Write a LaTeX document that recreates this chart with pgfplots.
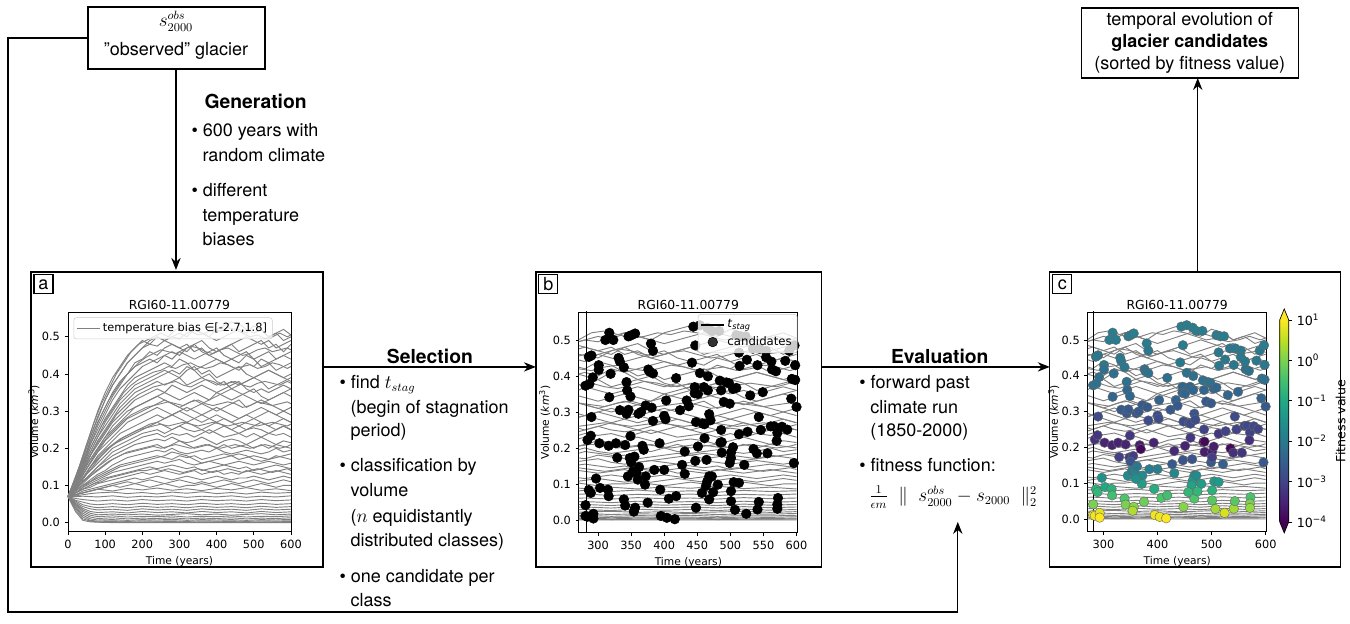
\documentclass[border=0pt]{standalone}
\usepackage[no-math]{fontspec}
\setmainfont{TeX Gyre Heros}
\newfontfamily\dvs{DejaVu Sans}
\usepackage{pgfplots}
\pgfplotsset{compat=1.18}
\usepackage{pgfplotstable}
\usetikzlibrary{arrows.meta}
\definecolor{v0}{HTML}{440154}
\definecolor{v1}{HTML}{482475}
\definecolor{v2}{HTML}{414487}
\definecolor{v3}{HTML}{355F8D}
\definecolor{v4}{HTML}{2A788E}
\definecolor{v5}{HTML}{21918C}
\definecolor{v6}{HTML}{22A884}
\definecolor{v7}{HTML}{44BF70}
\definecolor{v8}{HTML}{7AD151}
\definecolor{v9}{HTML}{BDDF26}
\definecolor{v10}{HTML}{FDE725}
\pgfdeclareverticalshading{viridisbar}{100bp}{color(0bp)=(v0); color(25bp)=(v0); color(30bp)=(v1); color(35bp)=(v2); color(40bp)=(v3); color(45bp)=(v4); color(50bp)=(v5); color(55bp)=(v6); color(60bp)=(v7); color(65bp)=(v8); color(70bp)=(v9); color(75bp)=(v10); color(100bp)=(v10)}
\newcommand\bodyf{\fontsize{13.5}{16}\selectfont}
\newcommand\headf{\fontsize{14.5}{17}\selectfont\bfseries}
\newcommand\mpl[1]{\dvs\fontsize{#1}{#1}\selectfont}

\pgfplotsset{
 panel/.style={scale only axis, axis line style={line width=0.6pt}, tick align=outside, tick pos=left,
   major tick length=2.5pt, tick style={black, line width=0.5pt},
   tick label style={font=\mpl{8.5}}, label style={font=\mpl{8}}, title style={font=\mpl{9.3}, yshift=-2pt},
   every axis title shift=0pt, ylabel shift=-5pt, xlabel shift=-1pt,
   /pgf/number format/assume math mode=true,
   yticklabel style={/pgf/number format/fixed, /pgf/number format/fixed zerofill, /pgf/number format/precision=1},
   ytick={0,0.1,0.2,0.3,0.4,0.5}, ylabel={Volume (\textit{km}\textsuperscript{3})}, xlabel={Time (years)},
   title={RGI60-11.00779}},
 gl/.style={color=gray, line width=0.7pt, forget plot},
}

\newcommand\glaciers{%
\addplot[gl] coordinates {(0,.07)(20,.12)(40,.18)(60,.24)(80,.30)(100,.35)(120,.39)(140,.42)(160,.45)(180,.47)(200,.49)(220,.48)(240,.50)(260,.49)(280,.50)(300,.51)(320,.50)(340,.52)(360,.51)(380,.50)(400,.52)(420,.53)(440,.54)(460,.535)(480,.52)(500,.51)(520,.52)(540,.50)(560,.51)(580,.49)(600,.50)};
\addplot[gl] coordinates {(0,.07)(20,.115)(40,.17)(60,.23)(80,.28)(100,.33)(120,.37)(140,.40)(160,.43)(180,.45)(200,.47)(220,.48)(240,.475)(260,.49)(280,.50)(300,.495)(320,.51)(340,.52)(360,.51)(380,.50)(400,.49)(420,.50)(440,.51)(460,.52)(480,.51)(500,.53)(520,.52)(540,.50)(560,.51)(580,.52)(600,.505)};
\addplot[gl] coordinates {(0,.07)(20,.11)(40,.16)(60,.21)(80,.26)(100,.30)(120,.34)(140,.37)(160,.40)(180,.43)(200,.44)(220,.46)(240,.45)(260,.47)(280,.48)(300,.47)(320,.46)(340,.48)(360,.49)(380,.47)(400,.46)(420,.47)(440,.48)(460,.46)(480,.47)(500,.48)(520,.49)(540,.47)(560,.48)(580,.46)(600,.48)};
\addplot[gl] coordinates {(0,.07)(20,.11)(40,.16)(60,.21)(80,.25)(100,.29)(120,.33)(140,.36)(160,.38)(180,.40)(200,.42)(220,.43)(240,.44)(260,.45)(280,.44)(300,.46)(320,.45)(340,.44)(360,.45)(380,.46)(400,.47)(420,.45)(440,.44)(460,.45)(480,.46)(500,.44)(520,.45)(540,.46)(560,.44)(580,.45)(600,.46)};
\addplot[gl] coordinates {(0,.07)(20,.11)(40,.15)(60,.20)(80,.24)(100,.28)(120,.31)(140,.34)(160,.37)(180,.39)(200,.40)(220,.41)(240,.42)(260,.43)(280,.42)(300,.44)(320,.43)(340,.41)(360,.42)(380,.43)(400,.44)(420,.43)(440,.42)(460,.41)(480,.43)(500,.42)(520,.44)(540,.43)(560,.41)(580,.42)(600,.43)};
\addplot[gl] coordinates {(0,.07)(20,.105)(40,.15)(60,.19)(80,.23)(100,.27)(120,.30)(140,.33)(160,.35)(180,.37)(200,.38)(220,.39)(240,.40)(260,.41)(280,.40)(300,.39)(320,.41)(340,.42)(360,.40)(380,.41)(400,.39)(420,.40)(440,.41)(460,.42)(480,.40)(500,.39)(520,.40)(540,.41)(560,.40)(580,.39)(600,.40)};
\addplot[gl] coordinates {(0,.07)(20,.105)(40,.14)(60,.18)(80,.22)(100,.25)(120,.28)(140,.31)(160,.33)(180,.35)(200,.36)(220,.37)(240,.38)(260,.37)(280,.38)(300,.39)(320,.37)(340,.38)(360,.39)(380,.40)(400,.38)(420,.37)(440,.38)(460,.37)(480,.38)(500,.39)(520,.38)(540,.36)(560,.37)(580,.38)(600,.39)};
\addplot[gl] coordinates {(0,.07)(20,.10)(40,.14)(60,.18)(80,.21)(100,.24)(120,.27)(140,.29)(160,.31)(180,.33)(200,.34)(220,.35)(240,.36)(260,.35)(280,.37)(300,.36)(320,.35)(340,.36)(360,.37)(380,.36)(400,.35)(420,.36)(440,.37)(460,.38)(480,.36)(500,.35)(520,.36)(540,.35)(560,.36)(580,.37)(600,.36)};
\addplot[gl] coordinates {(0,.07)(20,.10)(40,.14)(60,.17)(80,.20)(100,.23)(120,.26)(140,.28)(160,.30)(180,.31)(200,.32)(220,.33)(240,.34)(260,.35)(280,.34)(300,.33)(320,.34)(340,.35)(360,.34)(380,.33)(400,.35)(420,.34)(440,.33)(460,.34)(480,.35)(500,.36)(520,.34)(540,.33)(560,.34)(580,.35)(600,.34)};
\addplot[gl] coordinates {(0,.07)(20,.10)(40,.13)(60,.16)(80,.19)(100,.22)(120,.24)(140,.26)(160,.28)(180,.29)(200,.30)(220,.31)(240,.32)(260,.33)(280,.32)(300,.31)(320,.32)(340,.33)(360,.32)(380,.31)(400,.30)(420,.31)(440,.32)(460,.33)(480,.31)(500,.32)(520,.33)(540,.32)(560,.31)(580,.30)(600,.31)};
\addplot[gl] coordinates {(0,.07)(20,.10)(40,.13)(60,.16)(80,.19)(100,.21)(120,.23)(140,.25)(160,.27)(180,.28)(200,.29)(220,.30)(240,.31)(260,.30)(280,.29)(300,.30)(320,.31)(340,.30)(360,.29)(380,.30)(400,.31)(420,.30)(440,.29)(460,.28)(480,.29)(500,.30)(520,.31)(540,.30)(560,.29)(580,.30)(600,.29)};
\addplot[gl] coordinates {(0,.07)(20,.095)(40,.12)(60,.15)(80,.18)(100,.20)(120,.22)(140,.24)(160,.25)(180,.26)(200,.27)(220,.28)(240,.29)(260,.28)(280,.29)(300,.28)(320,.27)(340,.28)(360,.29)(380,.28)(400,.27)(420,.28)(440,.27)(460,.28)(480,.29)(500,.28)(520,.27)(540,.26)(560,.27)(580,.28)(600,.27)};
\addplot[gl] coordinates {(0,.07)(20,.095)(40,.12)(60,.15)(80,.17)(100,.19)(120,.21)(140,.22)(160,.23)(180,.24)(200,.25)(220,.26)(240,.27)(260,.26)(280,.25)(300,.26)(320,.27)(340,.26)(360,.25)(380,.26)(400,.27)(420,.26)(440,.25)(460,.26)(480,.25)(500,.26)(520,.27)(540,.26)(560,.25)(580,.26)(600,.25)};
\addplot[gl] coordinates {(0,.07)(20,.09)(40,.12)(60,.14)(80,.16)(100,.18)(120,.20)(140,.21)(160,.22)(180,.23)(200,.24)(220,.245)(240,.25)(260,.24)(280,.25)(300,.26)(320,.25)(340,.245)(360,.25)(380,.24)(400,.25)(420,.26)(440,.25)(460,.24)(480,.25)(500,.255)(520,.25)(540,.24)(560,.25)(580,.26)(600,.25)};
\addplot[gl] coordinates {(0,.07)(20,.09)(40,.11)(60,.13)(80,.15)(100,.17)(120,.19)(140,.20)(160,.21)(180,.22)(200,.23)(220,.235)(240,.24)(260,.23)(280,.24)(300,.235)(320,.24)(340,.23)(360,.24)(380,.25)(400,.24)(420,.23)(440,.235)(460,.24)(480,.23)(500,.24)(520,.23)(540,.24)(560,.235)(580,.24)(600,.23)};
\addplot[gl] coordinates {(0,.07)(20,.09)(40,.11)(60,.13)(80,.15)(100,.165)(120,.18)(140,.19)(160,.20)(180,.21)(200,.215)(220,.22)(240,.225)(260,.22)(280,.23)(300,.22)(320,.215)(340,.22)(360,.23)(380,.22)(400,.21)(420,.22)(440,.225)(460,.22)(480,.21)(500,.22)(520,.23)(540,.22)(560,.21)(580,.22)(600,.215)};
\addplot[gl] coordinates {(0,.07)(20,.09)(40,.11)(60,.125)(80,.14)(100,.155)(120,.17)(140,.18)(160,.19)(180,.195)(200,.20)(220,.205)(240,.21)(260,.20)(280,.21)(300,.22)(320,.21)(340,.20)(360,.205)(380,.21)(400,.20)(420,.21)(440,.20)(460,.205)(480,.21)(500,.20)(520,.21)(540,.20)(560,.21)(580,.205)(600,.20)};
\addplot[gl] coordinates {(0,.07)(20,.085)(40,.10)(60,.115)(80,.13)(100,.14)(120,.155)(140,.165)(160,.175)(180,.18)(200,.185)(220,.19)(240,.195)(260,.19)(280,.20)(300,.19)(320,.185)(340,.19)(360,.195)(380,.19)(400,.20)(420,.19)(440,.185)(460,.19)(480,.195)(500,.19)(520,.185)(540,.19)(560,.20)(580,.19)(600,.195)};
\addplot[gl] coordinates {(0,.07)(20,.085)(40,.10)(60,.11)(80,.125)(100,.135)(120,.145)(140,.155)(160,.16)(180,.165)(200,.17)(220,.175)(240,.18)(260,.175)(280,.17)(300,.18)(320,.175)(340,.18)(360,.17)(380,.175)(400,.18)(420,.185)(440,.18)(460,.17)(480,.175)(500,.18)(520,.175)(540,.17)(560,.18)(580,.175)(600,.17)};
\addplot[gl] coordinates {(0,.07)(20,.08)(40,.095)(60,.105)(80,.115)(100,.125)(120,.135)(140,.14)(160,.145)(180,.15)(200,.155)(220,.16)(240,.165)(260,.16)(280,.165)(300,.17)(320,.16)(340,.155)(360,.16)(380,.165)(400,.16)(420,.155)(440,.16)(460,.165)(480,.16)(500,.155)(520,.16)(540,.165)(560,.16)(580,.155)(600,.16)};
\addplot[gl] coordinates {(0,.07)(20,.08)(40,.09)(60,.10)(80,.11)(100,.12)(120,.125)(140,.13)(160,.135)(180,.14)(200,.145)(220,.15)(240,.145)(260,.15)(280,.155)(300,.15)(320,.145)(340,.15)(360,.14)(380,.145)(400,.15)(420,.155)(440,.15)(460,.145)(480,.15)(500,.14)(520,.145)(540,.15)(560,.155)(580,.15)(600,.145)};
\addplot[gl] coordinates {(0,.07)(20,.08)(40,.09)(60,.095)(80,.105)(100,.11)(120,.115)(140,.12)(160,.125)(180,.13)(200,.135)(220,.13)(240,.135)(260,.14)(280,.135)(300,.13)(320,.135)(340,.14)(360,.13)(380,.135)(400,.14)(420,.13)(440,.135)(460,.13)(480,.14)(500,.135)(520,.13)(540,.135)(560,.14)(580,.135)(600,.13)};
\addplot[gl] coordinates {(0,.07)(20,.075)(40,.085)(60,.09)(80,.095)(100,.10)(120,.105)(140,.11)(160,.115)(180,.12)(200,.115)(220,.12)(240,.125)(260,.12)(280,.115)(300,.12)(320,.125)(340,.12)(360,.115)(380,.12)(400,.125)(420,.12)(440,.115)(460,.12)(480,.12)(500,.125)(520,.12)(540,.115)(560,.12)(580,.125)(600,.12)};
\addplot[gl] coordinates {(0,.07)(20,.075)(40,.08)(60,.085)(80,.09)(100,.095)(120,.10)(140,.105)(160,.11)(180,.105)(200,.11)(220,.115)(240,.11)(260,.105)(280,.11)(300,.115)(320,.11)(340,.105)(360,.11)(380,.105)(400,.11)(420,.115)(440,.11)(460,.105)(480,.11)(500,.115)(520,.11)(540,.105)(560,.11)(580,.115)(600,.11)};
\addplot[gl] coordinates {(0,.07)(20,.075)(40,.08)(60,.085)(80,.09)(100,.095)(120,.10)(140,.095)(160,.10)(180,.105)(200,.10)(220,.095)(240,.10)(260,.105)(280,.10)(300,.095)(320,.10)(340,.10)(360,.105)(380,.10)(400,.095)(420,.10)(440,.105)(460,.10)(480,.095)(500,.10)(520,.105)(540,.10)(560,.095)(580,.10)(600,.10)};
\addplot[gl] coordinates {(0,.07)(20,.075)(40,.08)(60,.085)(80,.09)(120,.085)(160,.092)(200,.088)(240,.093)(280,.087)(320,.091)(360,.086)(400,.092)(440,.088)(480,.094)(520,.087)(560,.091)(600,.086)};
\addplot[gl] coordinates {(0,.07)(20,.072)(40,.075)(60,.078)(80,.08)(120,.082)(160,.078)(200,.081)(240,.077)(280,.082)(320,.079)(360,.083)(400,.078)(440,.081)(480,.077)(520,.082)(560,.079)(600,.081)};
\addplot[gl] coordinates {(0,.07)(20,.07)(40,.071)(60,.07)(80,.069)(120,.072)(160,.068)(200,.071)(240,.069)(280,.072)(320,.068)(360,.071)(400,.069)(440,.072)(480,.068)(520,.071)(560,.069)(600,.072)};
\addplot[gl] coordinates {(0,.07)(20,.065)(40,.062)(60,.06)(80,.058)(120,.061)(160,.058)(200,.062)(240,.059)(280,.061)(320,.058)(360,.062)(400,.059)(440,.061)(480,.058)(520,.062)(560,.059)(600,.061)};
\addplot[gl] coordinates {(0,.07)(20,.06)(40,.055)(60,.05)(80,.048)(120,.051)(160,.048)(200,.052)(240,.049)(280,.051)(320,.048)(360,.052)(400,.049)(440,.051)(480,.048)(520,.052)(560,.049)(600,.051)};
\addplot[gl] coordinates {(0,.07)(20,.058)(40,.048)(60,.043)(80,.04)(120,.043)(160,.04)(200,.044)(240,.041)(280,.043)(320,.04)(360,.044)(400,.041)(440,.043)(480,.04)(520,.044)(560,.041)(600,.043)};
\addplot[gl] coordinates {(0,.07)(20,.055)(40,.043)(60,.037)(80,.034)(120,.036)(160,.033)(200,.037)(240,.034)(280,.036)(320,.033)(360,.037)(400,.034)(440,.036)(480,.033)(520,.037)(560,.034)(600,.036)};
\addplot[gl] coordinates {(0,.07)(20,.052)(40,.038)(60,.03)(80,.027)(120,.029)(160,.026)(200,.03)(240,.027)(280,.029)(320,.026)(360,.03)(400,.027)(440,.029)(480,.026)(520,.03)(560,.027)(600,.029)};
\addplot[gl] coordinates {(0,.07)(20,.05)(40,.034)(60,.025)(80,.021)(120,.023)(160,.021)(200,.023)(240,.02)(280,.022)(320,.024)(360,.021)(400,.023)(440,.02)(480,.022)(520,.024)(560,.021)(600,.023)};
\addplot[gl] coordinates {(0,.07)(20,.048)(40,.03)(60,.02)(80,.016)(120,.018)(160,.015)(200,.017)(240,.016)(280,.018)(320,.015)(360,.017)(400,.016)(440,.018)(480,.015)(520,.017)(560,.016)(600,.018)};
\addplot[gl] coordinates {(0,.07)(20,.045)(40,.025)(60,.015)(80,.011)(120,.013)(160,.01)(200,.012)(240,.011)(280,.013)(320,.01)(360,.012)(400,.011)(440,.013)(480,.01)(520,.012)(560,.011)(600,.013)};
\addplot[gl] coordinates {(0,.07)(20,.042)(40,.02)(60,.01)(80,.007)(120,.008)(160,.006)(200,.008)(240,.007)(280,.009)(320,.006)(360,.008)(400,.007)(440,.008)(480,.006)(520,.008)(560,.007)(600,.009)};
\addplot[gl] coordinates {(0,.07)(20,.04)(40,.015)(60,.006)(80,.004)(120,.005)(160,.003)(200,.005)(240,.004)(280,.005)(320,.003)(360,.005)(400,.004)(440,.005)(480,.003)(520,.005)(560,.004)(600,.005)};
\addplot[gl] coordinates {(0,.07)(20,.035)(40,.01)(60,.004)(80,.002)(120,.003)(160,.001)(200,.002)(240,.002)(280,.003)(320,.001)(360,.002)(400,.002)(440,.003)(480,.001)(520,.002)(560,.002)(600,.003)};
\addplot[gl] coordinates {(0,.07)(20,.03)(40,.006)(60,.002)(80,.001)(120,0)(600,0)};
\addplot[gl] coordinates {(0,.07)(20,.12)(40,.175)(60,.23)(80,.285)(100,.33)(120,.37)(140,.40)(160,.43)(180,.45)(200,.47)(220,.49)(240,.50)(260,.49)(280,.48)(300,.47)(320,.48)(340,.46)(360,.47)(380,.45)(400,.46)(420,.47)(440,.48)(460,.49)(480,.50)(500,.49)(520,.48)(540,.49)(560,.47)(580,.48)(600,.49)};
\addplot[gl] coordinates {(0,.07)(20,.11)(40,.16)(60,.22)(80,.27)(100,.31)(120,.35)(140,.38)(160,.40)(180,.42)(200,.43)(220,.44)(240,.43)(260,.45)(280,.46)(300,.45)(320,.47)(340,.48)(360,.46)(380,.45)(400,.44)(420,.43)(440,.44)(460,.43)(480,.45)(500,.44)(520,.42)(540,.43)(560,.44)(580,.45)(600,.44)};
\addplot[gl] coordinates {(0,.07)(20,.105)(40,.145)(60,.19)(80,.23)(100,.26)(120,.29)(140,.32)(160,.34)(180,.36)(200,.37)(220,.38)(240,.39)(260,.40)(280,.41)(300,.40)(320,.42)(340,.41)(360,.39)(380,.38)(400,.37)(420,.38)(440,.36)(460,.37)(480,.38)(500,.39)(520,.40)(540,.41)(560,.40)(580,.39)(600,.38)};
\addplot[gl] coordinates {(0,.07)(20,.10)(40,.135)(60,.17)(80,.20)(100,.23)(120,.25)(140,.27)(160,.29)(180,.31)(200,.32)(220,.33)(240,.34)(260,.33)(280,.32)(300,.31)(320,.30)(340,.31)(360,.32)(380,.33)(400,.34)(420,.35)(440,.36)(460,.35)(480,.34)(500,.33)(520,.32)(540,.33)(560,.34)(580,.35)(600,.36)};
\addplot[gl] coordinates {(0,.07)(20,.095)(40,.12)(60,.15)(80,.175)(100,.195)(120,.21)(140,.225)(160,.235)(180,.245)(200,.255)(220,.265)(240,.27)(260,.28)(280,.29)(300,.30)(320,.29)(340,.28)(360,.27)(380,.28)(400,.29)(420,.28)(440,.27)(460,.26)(480,.27)(500,.28)(520,.29)(540,.30)(560,.29)(580,.28)(600,.27)};
\addplot[gl] coordinates {(0,.07)(20,.08)(40,.095)(60,.11)(80,.12)(100,.13)(120,.14)(140,.15)(160,.155)(180,.16)(200,.165)(220,.17)(240,.175)(260,.18)(280,.19)(300,.185)(320,.18)(340,.17)(360,.16)(380,.165)(400,.17)(420,.175)(440,.18)(460,.185)(480,.18)(500,.17)(520,.165)(540,.17)(560,.175)(580,.18)(600,.185)};
\addplot[gl] coordinates {(0,.07)(30,.15)(50,.21)(70,.27)(90,.32)(110,.36)(130,.40)(150,.43)(170,.46)(190,.48)(210,.49)(230,.50)(250,.51)(270,.50)(290,.52)(310,.525)(330,.515)(350,.505)(370,.51)(390,.52)(410,.515)(430,.525)(450,.52)(470,.51)(490,.50)(510,.505)(530,.495)(550,.50)(570,.51)(590,.50)(600,.505)};
\addplot[gl] coordinates {(0,.07)(30,.14)(50,.19)(70,.245)(90,.29)(110,.33)(130,.36)(150,.39)(170,.41)(190,.43)(210,.445)(230,.455)(250,.465)(270,.46)(290,.455)(310,.465)(330,.475)(350,.47)(370,.46)(390,.455)(410,.465)(430,.47)(450,.46)(470,.45)(490,.455)(510,.465)(530,.47)(550,.46)(570,.465)(590,.47)(600,.465)};
\addplot[gl] coordinates {(0,.07)(30,.13)(50,.18)(70,.22)(90,.26)(110,.29)(130,.32)(150,.35)(170,.37)(190,.385)(210,.395)(230,.405)(250,.41)(270,.42)(290,.415)(310,.425)(330,.43)(350,.42)(370,.415)(390,.42)(410,.43)(430,.425)(450,.415)(470,.42)(490,.425)(510,.415)(530,.42)(550,.43)(570,.425)(590,.415)(600,.42)};
\addplot[gl] coordinates {(0,.07)(30,.12)(50,.16)(70,.20)(90,.23)(110,.26)(130,.29)(150,.31)(170,.33)(190,.345)(210,.355)(230,.365)(250,.37)(270,.375)(290,.38)(310,.37)(330,.365)(350,.375)(370,.385)(390,.38)(410,.37)(430,.375)(450,.38)(470,.37)(490,.365)(510,.375)(530,.38)(550,.375)(570,.37)(590,.38)(600,.375)};
\addplot[gl] coordinates {(0,.07)(30,.11)(50,.145)(70,.18)(90,.21)(110,.235)(130,.255)(150,.275)(170,.29)(190,.30)(210,.31)(230,.315)(250,.32)(270,.325)(290,.32)(310,.315)(330,.325)(350,.33)(370,.32)(390,.315)(410,.32)(430,.325)(450,.32)(470,.31)(490,.315)(510,.325)(530,.32)(550,.315)(570,.32)(590,.325)(600,.32)};
\addplot[gl] coordinates {(0,.07)(30,.10)(50,.13)(70,.155)(90,.18)(110,.20)(130,.215)(150,.23)(170,.24)(190,.25)(210,.255)(230,.26)(250,.265)(270,.26)(290,.265)(310,.27)(330,.265)(350,.26)(370,.265)(390,.27)(410,.265)(430,.26)(450,.265)(470,.27)(490,.265)(510,.26)(530,.265)(550,.27)(570,.265)(590,.26)(600,.265)};
\addplot[gl] coordinates {(0,.07)(30,.095)(50,.115)(70,.135)(90,.15)(110,.165)(130,.175)(150,.185)(170,.19)(190,.195)(210,.20)(230,.205)(250,.20)(270,.205)(290,.21)(310,.205)(330,.20)(350,.205)(370,.21)(390,.205)(410,.20)(430,.205)(450,.21)(470,.205)(490,.20)(510,.205)(530,.21)(550,.205)(570,.20)(590,.205)(600,.21)};
\addplot[gl] coordinates {(0,.07)(30,.085)(50,.095)(70,.105)(90,.11)(110,.12)(130,.125)(150,.13)(170,.135)(190,.14)(210,.14)(230,.145)(250,.14)(270,.145)(290,.14)(310,.135)(330,.14)(350,.145)(370,.14)(390,.135)(410,.14)(430,.145)(450,.14)(470,.135)(490,.14)(510,.145)(530,.14)(550,.135)(570,.14)(590,.145)(600,.14)};
}

\pgfplotstableread{
x y f
317 .520 -1.9
311 .500 -1.9
323 .500 -1.9
346 .510 -1.9
350 .513 -1.9
356 .518 -1.9
380 .490 -1.9
383 .470 -2.0
286 .453 -2.0
290 .457 -2.0
331 .450 -2.0
333 .440 -2.0
301 .430 -2.0
301 .417 -2.15
339 .424 -2.0
319 .406 -2.15
292 .396 -2.15
281 .373 -2.15
287 .378 -2.15
376 .418 -2.15
378 .412 -2.15
383 .407 -2.15
317 .341 -2.35
343 .383 -2.15
344 .360 -2.35
349 .343 -2.35
333 .305 -2.6
343 .295 -2.6
346 .306 -2.6
361 .295 -2.6
365 .300 -2.6
372 .318 -2.6
381 .312 -2.6
383 .275 -2.85
400 .289 -2.85
402 .280 -2.85
403 .332 -2.4
418 .394 -2.15
424 .305 -2.6
434 .332 -2.4
437 .316 -2.6
442 .437 -2.0
446 .369 -2.35
446 .352 -2.35
451 .350 -2.35
454 .408 -2.15
460 .369 -2.35
466 .399 -2.15
466 .360 -2.35
448 .272 -2.85
458 .268 -2.85
461 .266 -2.85
468 .294 -2.7
470 .277 -2.85
461 .227 -3.2
486 .250 -3.0
485 .215 -3.9
444 .537 -1.9
454 .541 -1.9
465 .534 -1.9
472 .525 -1.9
483 .525 -1.9
509 .513 -1.9
516 .510 -1.9
523 .510 -1.9
447 .485 -1.9
513 .465 -2.0
534 .476 -2.0
544 .476 -2.0
554 .470 -2.0
589 .470 -2.0
597 .485 -1.9
525 .445 -2.0
554 .452 -2.0
562 .440 -2.0
484 .387 -2.15
486 .360 -2.35
490 .328 -2.6
494 .382 -2.15
498 .380 -2.15
499 .323 -2.6
504 .364 -2.35
509 .367 -2.35
514 .428 -2.0
513 .238 -3.2
526 .245 -3.0
530 .346 -2.35
541 .430 -2.0
543 .286 -2.85
549 .355 -2.35
546 .250 -3.0
563 .418 -2.15
569 .413 -2.15
561 .260 -2.9
566 .260 -2.9
571 .242 -3.0
578 .259 -2.9
586 .251 -3.0
570 .220 -3.3
583 .442 -2.0
592 .337 -2.4
593 .392 -2.15
598 .389 -2.15
598 .430 -2.0
600 .314 -2.6
596 .158 -2.6
284 .222 -3.3
289 .234 -3.2
290 .286 -2.85
302 .213 -3.5
316 .206 -3.5
329 .173 -3.1
327 .213 -3.5
341 .208 -3.5
348 .172 -3.1
355 .176 -3.1
349 .233 -3.2
350 .160 -2.7
345 .121 -1.6
353 .135 -1.9
358 .130 -1.8
362 .147 -2.0
367 .206 -3.6
369 .195 -3.9
372 .121 -1.6
371 .098 -1.2
360 .112 -1.5
385 .139 -1.9
393 .213 -3.5
400 .139 -1.9
394 .084 -0.9
431 .190 -3.4
427 .153 -2.6
431 .128 -1.7
447 .164 -2.7
451 .204 -3.5
464 .167 -2.7
468 .121 -1.6
465 .107 -1.3
463 .094 -1.1
472 .121 -1.6
481 .098 -1.2
487 .216 -3.9
487 .187 -3.6
499 .158 -2.6
501 .187 -3.6
501 .172 -3.1
504 .202 -3.6
521 .153 -2.5
505 .105 -1.3
513 .103 -1.3
535 .197 -3.9
540 .185 -3.3
556 .185 -3.2
501 .080 -0.8
286 .083 -0.8
289 .075 -0.7
297 .115 -1.5
303 .089 -1.0
315 .084 -0.8
316 .066 -0.5
281 .041 0.0
281 .011 0.9
284 .009 0.9
293 .017 0.8
293 .004 1.0
339 .057 -0.4
341 .040 0.0
356 .034 0.1
354 .023 0.4
375 .048 -0.1
395 .011 0.9
404 .006 0.9
416 .002 1.0
407 .059 -0.4
418 .066 -0.5
448 .034 0.1
457 .075 -0.7
468 .057 -0.4
474 .077 -0.7
501 .052 -0.3
507 .028 0.3
524 .017 0.7
541 .029 0.3
543 .050 -0.3
572 .061 -0.45
571 .043 0.0
571 .031 0.2
}\cands

\begin{document}
\begin{tikzpicture}
\begin{scope}[x=0.75pt,y=-0.75pt, every node/.style={inner sep=1pt}]
\path[use as bounding box] (0,0) rectangle (1350,624);
\coordinate (Aa) at (68,532);
\coordinate (Ab) at (579,533);
\coordinate (Ac) at (1088,532);
\coordinate (CB) at (1280,522);
% top-left box
\draw[line width=1pt] (88,7) rectangle (265,69);
\node at (176,21) {\bodyf$s_{2000}^{obs}$};
\node at (176,51) {\bodyf ”observed” glacier};
% feedback line
\draw[line width=1pt, -{Stealth[length=9pt,width=7pt]}] (88,38) -- (8,38) -- (8,612) -- (958,612) -- (958,522);
\draw[line width=1pt, -{Stealth[length=9pt,width=7pt]}] (176,69) -- (176,270);
% Generation
\node[anchor=mid west] at (203,105) {\headf Generation};
\node[anchor=mid west] at (190,133) {\bodyf • 600 years with};
\node[anchor=mid west] at (201,158) {\bodyf random climate};
\node[anchor=mid west] at (190,193) {\bodyf • different};
\node[anchor=mid west] at (201,218) {\bodyf temperature};
\node[anchor=mid west] at (201,242) {\bodyf biases};
% panel boxes
\draw[line width=1pt] (31,272) rectangle (323,567);
\draw[line width=1pt] (536,272) rectangle (822,567);
\draw[line width=1pt] (1050,272) rectangle (1341,567);
\draw[line width=0.8pt] (34,275) rectangle (53,294); \node at (43.5,284.5) {\bodyf a};
\draw[line width=0.8pt] (539,275) rectangle (558,294); \node at (548.5,284.5) {\bodyf b};
\draw[line width=0.8pt] (1053,275) rectangle (1072,294); \node at (1062.5,284.5) {\bodyf c};
% Selection
\draw[line width=1pt, -{Stealth[length=9pt,width=7pt]}] (323,367) -- (536,367);
\node at (430,356) {\headf Selection};
\node[anchor=mid west] at (338,385) {\bodyf • find $t_{stag}$};
\node[anchor=mid west] at (349,410) {\bodyf (begin of stagnation};
\node[anchor=mid west] at (349,433) {\bodyf period)};
\node[anchor=mid west] at (338,468) {\bodyf • classification by};
\node[anchor=mid west] at (349,493) {\bodyf volume};
\node[anchor=mid west] at (349,519) {\bodyf ($n$ equidistantly};
\node[anchor=mid west] at (349,543) {\bodyf distributed classes)};
\node[anchor=mid west] at (338,579) {\bodyf • one candidate per};
\node[anchor=mid west] at (349,603) {\bodyf class};
% Evaluation
\draw[line width=1pt, -{Stealth[length=9pt,width=7pt]}] (822,367) -- (1050,367);
\node at (940,356) {\headf Evaluation};
\node[anchor=mid west] at (858,385) {\bodyf • forward past};
\node[anchor=mid west] at (869,410) {\bodyf climate run};
\node[anchor=mid west] at (869,433) {\bodyf (1850-2000)};
\node[anchor=mid west] at (858,468) {\bodyf • fitness function:};
\node[anchor=mid west, inner sep=0pt] at (869,498) {\bodyf $\frac{1}{\epsilon m}\ \parallel\ s_{2000}^{obs}-s_{2000}\ \parallel_2^2$};
% top right
\draw[line width=1pt, -{Stealth[length=9pt,width=7pt]}] (1198,272) -- (1198,78);
\draw[line width=1pt] (1082,8) rectangle (1299,78);
\node at (1190,21) {\bodyf temporal evolution of};
\node at (1190,43) {\bodyf\bfseries glacier candidates};
\node at (1190,65) {\bodyf (sorted by fitness value)};
% colorbar body
\shade[shading=viridisbar] (1280,320) rectangle (1289,522);
\fill[v10] (1280,320) -- (1284.5,309) -- (1289,320) -- cycle;
\fill[v0] (1280,522) -- (1284.5,533) -- (1289,522) -- cycle;
\draw[line width=0.5pt] (1280,320) -- (1284.5,309) -- (1289,320) -- (1289,522) -- (1284.5,533) -- (1280,522) -- cycle;
\end{scope}

% ---------- panel a
\begin{axis}[panel, at={(Aa)}, anchor=south west, width=167.25pt, height=165pt,
  xmin=0, xmax=600, ymin=-0.025, ymax=0.567, xtick={0,100,200,300,400,500,600},
  legend style={at={(0.025,0.975)}, anchor=north west, draw=black!20, rounded corners=2pt,
    fill=white, fill opacity=0.8, text opacity=1, font=\mpl{8.5}, inner sep=2pt}, legend cell align=left]
\addlegendimage{gray, line width=0.75pt, no marks}
\addlegendentry{temperature bias ∈[-2.7,1.8]}
\glaciers
\end{axis}

% ---------- panel b
\begin{axis}[panel, at={(Ab)}, anchor=south west, width=164.25pt, height=165.75pt,
  xmin=271, xmax=602, ymin=-0.036, ymax=0.578, xtick={300,350,400,450,500,550,600},
  legend style={at={(0.998,0.99)}, anchor=north east, draw=black!20, rounded corners=2pt,
    fill=white, fill opacity=0.8, text opacity=1, font=\mpl{8.8}, inner sep=2pt, row sep=1pt}, legend cell align=left]
\addlegendimage{black, line width=1pt, no marks}
\addlegendentry{\textit{t}\textsubscript{\textit{stag}}}
\addlegendimage{only marks, mark=*, mark size=3.6pt, black}
\addlegendentry{candidates}
\glaciers
\addplot[black, line width=0.9pt, forget plot] coordinates {(282,-0.1)(282,0.7)};
\addplot[only marks, mark=*, mark size=3.6pt, black, forget plot] table[x=x, y=y] {\cands};
\end{axis}

% ---------- panel c
\begin{axis}[panel, at={(Ac)}, anchor=south west, width=134.25pt, height=165pt,
  xmin=271, xmax=602, ymin=-0.036, ymax=0.578, xtick={300,400,500,600},
  colormap/viridis, point meta min=-4, point meta max=1]
\glaciers
\addplot[black, line width=0.9pt, forget plot] coordinates {(282,-0.1)(282,0.7)};
\addplot[scatter, only marks, mark=*, mark size=3.6pt, scatter src=explicit,
  scatter/use mapped color={draw=black!60, fill=mapped color}, mark options={line width=0.3pt}, forget plot]
  table[x=x, y=y, meta=f] {\cands};
\end{axis}

% ---------- colorbar ticks
\begin{axis}[at={(CB)}, anchor=south west, scale only axis, width=6.75pt, height=151.5pt,
  xmin=0, xmax=1, ymin=-4, ymax=1, hide x axis, axis y line*=right, y axis line style={draw=none},
  ytick={-4,-3,-2,-1,0,1},
  yticklabels={10\textsuperscript{−4},10\textsuperscript{−3},10\textsuperscript{−2},10\textsuperscript{−1},10\textsuperscript{0},10\textsuperscript{1}},
  yticklabel style={font=\mpl{9.5}}, ylabel={Fitness value}, ylabel style={font=\mpl{9.5}},
  tick align=outside, major tick length=2.5pt, tick style={black, line width=0.5pt}]
\end{axis}
\end{tikzpicture}
\end{document}
